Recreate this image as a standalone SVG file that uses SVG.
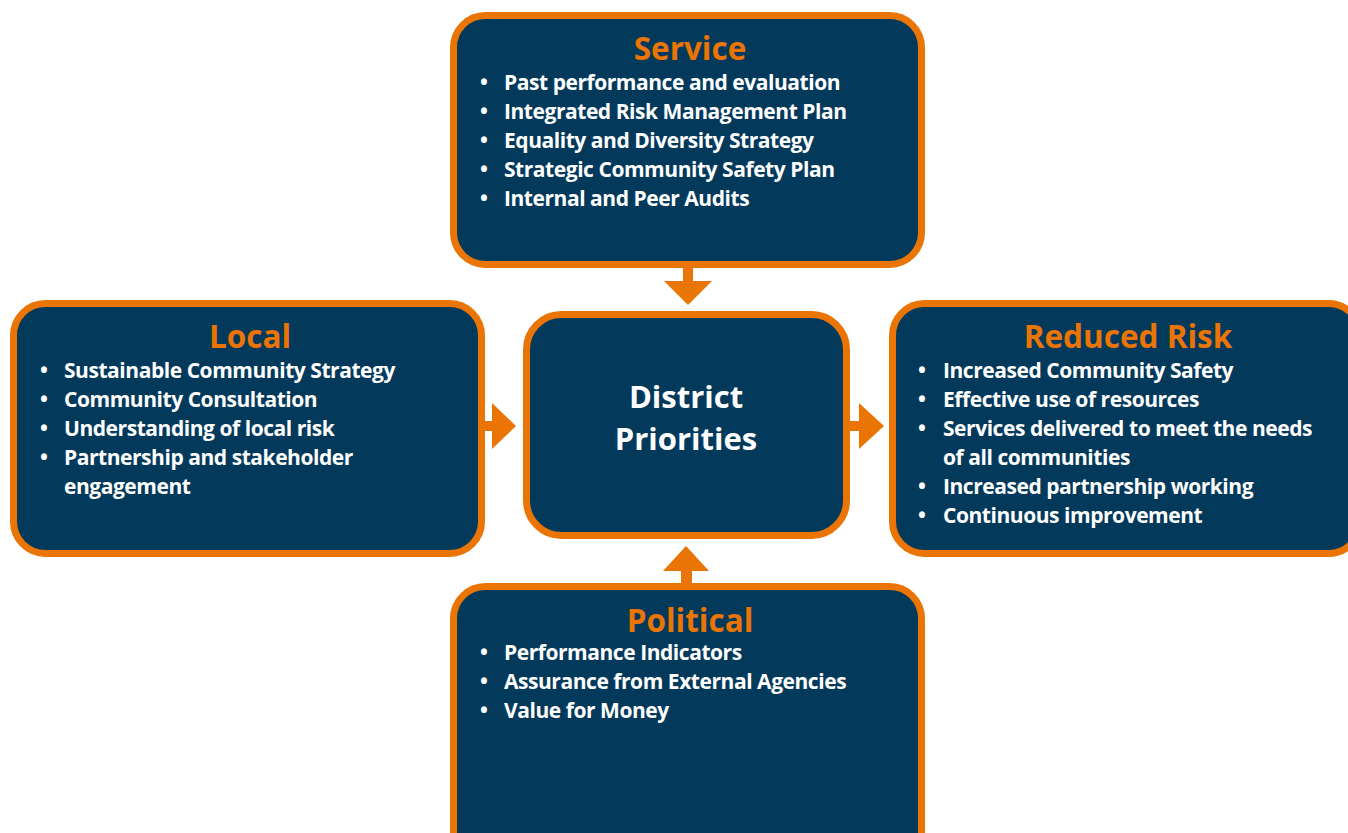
<svg xmlns="http://www.w3.org/2000/svg" width="1348" height="833" viewBox="0 0 1348 833">
<style>
.box{fill:#033a5c;stroke:#ea7404;stroke-width:7}
.title{font-family:"Open Sans","Noto Sans",sans-serif;font-weight:700;font-size:31.5px;fill:#ea7404;text-anchor:middle}
.item{font-family:"Open Sans","Noto Sans",sans-serif;font-weight:700;font-size:21px;letter-spacing:-0.45px;fill:#ffffff}
.center{font-family:"Open Sans","Noto Sans",sans-serif;font-weight:700;font-size:31px;fill:#ffffff;text-anchor:middle}
.arrow{fill:#ea7404}
</style>
<rect width="1348" height="833" fill="#ffffff"/>
<g id="connectors">
<path class="arrow" d="M683,266 H693 V281 H712 L688,305 L664,281 H683 Z"/>
<path class="arrow" d="M483,421 H492 V403 L516,426 L492,449 V431 H483 Z"/>
<path class="arrow" d="M848,421 H859 V403 L884,426 L859,449 V431 H848 Z"/>
<path class="arrow" d="M681,586 V571 H663 L686,546 L709,571 H692 V586 Z"/>
</g>
<g id="service">
<rect class="box" x="453.5" y="15.5" width="468" height="249" rx="32"/>
<text class="title" x="690" y="60">Service</text>
<g class="item">
<text x="480" y="90">•</text><text x="504" y="90">Past performance and evaluation</text>
<text x="480" y="119">•</text><text x="504" y="119">Integrated Risk Management Plan</text>
<text x="480" y="148">•</text><text x="504" y="148">Equality and Diversity Strategy</text>
<text x="480" y="177">•</text><text x="504" y="177">Strategic Community Safety Plan</text>
<text x="480" y="206">•</text><text x="504" y="206">Internal and Peer Audits</text>
</g>
</g>
<g id="local">
<rect class="box" x="13.5" y="303.5" width="468" height="250" rx="32"/>
<text class="title" x="250" y="348">Local</text>
<g class="item">
<text x="40" y="378">•</text><text x="64" y="378">Sustainable Community Strategy</text>
<text x="40" y="407">•</text><text x="64" y="407">Community Consultation</text>
<text x="40" y="436">•</text><text x="64" y="436">Understanding of local risk</text>
<text x="40" y="465">•</text><text x="64" y="465">Partnership and stakeholder</text>
<text x="64" y="494">engagement</text>
</g>
</g>
<g id="district">
<rect class="box" x="526.5" y="314.5" width="320" height="221" rx="35"/>
<text class="center" x="686" y="408">District</text>
<text class="center" x="686" y="450">Priorities</text>
</g>
<g id="reduced-risk">
<rect class="box" x="892.5" y="303.5" width="468" height="250" rx="32"/>
<text class="title" x="1128" y="348">Reduced Risk</text>
<g class="item">
<text x="918" y="378">•</text><text x="943" y="378">Increased Community Safety</text>
<text x="918" y="407">•</text><text x="943" y="407">Effective use of resources</text>
<text x="918" y="436">•</text><text x="943" y="436">Services delivered to meet the needs</text>
<text x="943" y="465">of all communities</text>
<text x="918" y="494">•</text><text x="943" y="494">Increased partnership working</text>
<text x="918" y="523">•</text><text x="943" y="523">Continuous improvement</text>
</g>
</g>
<g id="political">
<rect class="box" x="453.5" y="586.5" width="468" height="280" rx="32"/>
<text class="title" x="690" y="632">Political</text>
<g class="item">
<text x="480" y="660">•</text><text x="504" y="660">Performance Indicators</text>
<text x="480" y="689">•</text><text x="504" y="689">Assurance from External Agencies</text>
<text x="480" y="718">•</text><text x="504" y="718">Value for Money</text>
</g>
</g>
</svg>
